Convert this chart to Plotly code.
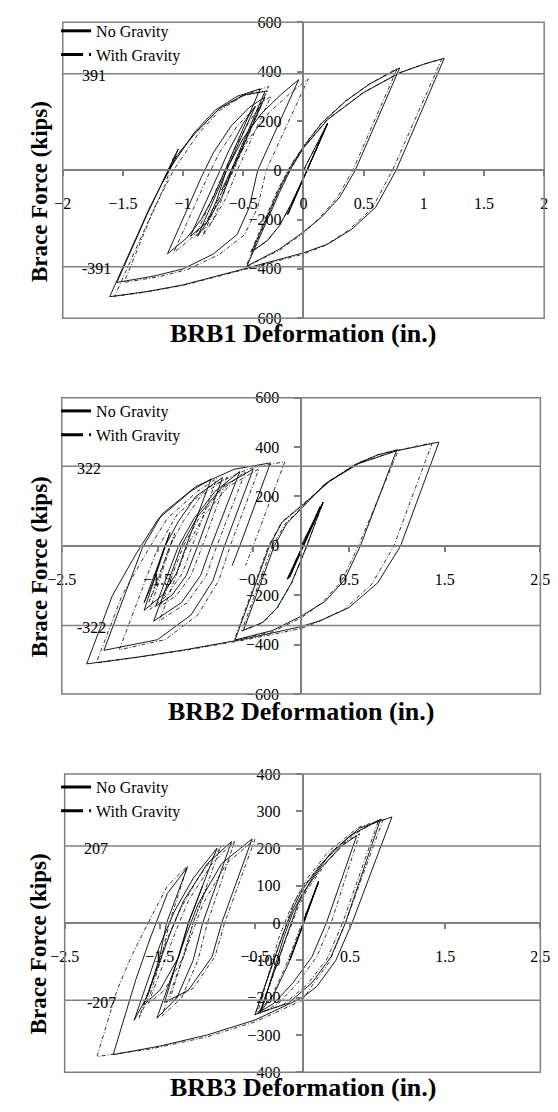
import plotly.graph_objects as go

# ---------------- DATA ----------------
brb1_no_gravity = [
    (0, 0), (0.2, 190), (-0.13, -180), (0.18, 172), (-0.12, -168), (0.2, 190),
    (0.03, 0), (-0.1, -135), (-0.2, -225), (-0.3, -285), (-0.43, -330),
    (-0.2, -75), (-0.1, 20), (0, 95), (0.15, 190), (0.35, 280), (0.55, 350), (0.8, 415),
    (0.43, 0), (0.3, -110), (0.15, -190), (0, -250), (-0.2, -320), (-0.47, -389),
    (-0.2, -90), (-0.1, 10), (0, 90), (0.2, 205), (0.5, 315), (0.8, 395), (1.0, 430), (1.17, 454),
    (0.77, 0), (0.6, -150), (0.4, -240), (0.2, -300), (0, -335), (-0.47, -397), (-1.0, -465),
    (-1.3, -492), (-1.61, -513),
    (-1.28, -154), (-1.12, 0), (-0.91, 151), (-0.73, 245), (-0.55, 300), (-0.36, 330),
    (-0.65, 0), (-0.75, -110), (-0.85, -200), (-0.97, -275), (-1.13, -339),
    (-0.85, -30), (-0.75, 70), (-0.6, 180), (-0.45, 255), (-0.32, 297),
    (-0.59, 0), (-0.68, -110), (-0.8, -210), (-0.94, -268),
    (-0.72, -30), (-0.62, 80), (-0.5, 190), (-0.4, 260),
    (-0.64, 0), (-0.72, -120), (-0.8, -210), (-0.88, -268),
    (-0.62, 20), (-0.5, 130), (-0.35, 230), (-0.18, 310), (-0.04, 367),
    (-0.38, 0), (-0.45, -150), (-0.55, -260), (-0.75, -340), (-1.0, -400), (-1.25, -430), (-1.55, -455),
    (-1.3, -180), (-1.15, -30), (-1.04, 86), (-1.1, 20), (-1.16, -40),
    (-1.05, 60), (-0.9, 150), (-0.7, 250), (-0.5, 305), (-0.32, 320), (-0.6, 0), (-0.68, -80),
]
brb1_with_gravity = [
    (0, 0), (0.2, 188), (-0.14, -182), (0.18, 170), (-0.13, -170), (0.2, 188),
    (0.03, 0), (-0.1, -135), (-0.2, -226), (-0.3, -286), (-0.44, -333),
    (-0.21, -75), (-0.1, 25), (0, 98), (0.15, 192), (0.35, 282), (0.55, 350), (0.78, 413),
    (0.41, 0), (0.28, -112), (0.13, -195), (0, -255), (-0.2, -325), (-0.48, -392),
    (-0.21, -90), (-0.1, 12), (0, 92), (0.2, 207), (0.5, 316), (0.8, 396), (1.0, 430), (1.15, 452),
    (0.74, 0), (0.57, -155), (0.37, -245), (0.18, -305), (0, -340), (-0.47, -400), (-1.0, -467),
    (-1.3, -493), (-1.57, -512),
    (-1.24, -154), (-1.08, 0), (-0.87, 151), (-0.69, 245), (-0.5, 302), (-0.29, 340),
    (-0.59, 0), (-0.7, -110), (-0.8, -200), (-0.93, -275), (-1.08, -335),
    (-0.8, -30), (-0.7, 70), (-0.55, 180), (-0.4, 255), (-0.27, 300),
    (-0.55, 0), (-0.64, -110), (-0.76, -210), (-0.9, -268),
    (-0.68, -30), (-0.58, 80), (-0.46, 190), (-0.36, 262),
    (-0.6, 0), (-0.68, -120), (-0.76, -210), (-0.84, -268),
    (-0.58, 20), (-0.45, 130), (-0.29, 232), (-0.11, 312), (0.04, 371),
    (-0.31, 0), (-0.38, -150), (-0.49, -262), (-0.7, -342), (-0.96, -402), (-1.2, -432), (-1.49, -455),
    (-1.27, -190), (-1.15, -60), (-1.07, 60), (-1.12, 5), (-1.17, -50),
    (-1.06, 55), (-0.9, 150), (-0.7, 248), (-0.5, 303), (-0.3, 322), (-0.58, 0), (-0.66, -80),
]

brb2_no_gravity = [
    (0, 0), (0.23, 177), (-0.14, -135), (0.2, 160), (-0.12, -128), (0.23, 177),
    (0.06, 0), (-0.1, -150), (-0.25, -250), (-0.4, -310), (-0.6, -341),
    (-0.28, 0), (-0.15, 90), (0, 150), (0.25, 250), (0.57, 330), (0.8, 368), (1.0, 388),
    (0.62, 0), (0.45, -140), (0.25, -225), (0, -285), (-0.3, -343), (-0.69, -381),
    (-0.33, 0), (-0.2, 95), (0, 160), (0.3, 262), (0.6, 333), (1.0, 385), (1.44, 420),
    (1.04, 0), (0.8, -150), (0.5, -250), (0.2, -303), (0, -327), (-0.6, -378), (-1.2, -420),
    (-1.7, -450), (-2.24, -478),
    (-1.97, -200), (-1.72, -30), (-1.49, 110), (-1.15, 222), (-0.94, 271),
    (-1.2, 0), (-1.3, -110), (-1.45, -200), (-1.64, -261),
    (-1.37, 54), (-1.45, -30), (-1.55, -150), (-1.64, -230),
    (-1.42, 0), (-1.28, 100), (-1.1, 200), (-0.82, 277),
    (-1.08, 0), (-1.2, -120), (-1.35, -200), (-1.52, -245),
    (-1.28, 0), (-1.12, 110), (-0.9, 220), (-0.64, 301),
    (-0.94, 0), (-1.05, -120), (-1.25, -230), (-1.54, -305),
    (-1.25, 0), (-1.08, 120), (-0.82, 240), (-0.5, 311),
    (-0.8, 0), (-0.92, -140), (-1.15, -280), (-1.5, -380), (-2.06, -423),
    (-1.66, -10), (-1.45, 130), (-1.1, 240), (-0.7, 310), (-0.32, 336),
    (-0.64, 0), (-0.72, -80),
]
brb2_with_gravity = [
    (0, 0), (0.23, 175), (-0.15, -138), (0.2, 158), (-0.13, -130), (0.23, 175),
    (0.06, 0), (-0.1, -152), (-0.25, -252), (-0.4, -312), (-0.62, -345),
    (-0.3, 0), (-0.16, 92), (0, 152), (0.25, 252), (0.57, 331), (0.8, 369), (1.02, 390),
    (0.6, 0), (0.42, -145), (0.22, -230), (0, -292), (-0.3, -348), (-0.7, -383),
    (-0.34, 0), (-0.2, 97), (0, 162), (0.3, 263), (0.6, 334), (1.0, 386), (1.37, 417),
    (0.97, 0), (0.74, -155), (0.45, -258), (0.15, -312), (0, -335), (-0.6, -382), (-1.2, -422),
    (-1.7, -451), (-2.14, -474),
    (-1.87, -200), (-1.62, -30), (-1.4, 110), (-1.08, 222), (-0.88, 273),
    (-1.14, 0), (-1.24, -110), (-1.4, -200), (-1.58, -258),
    (-1.32, 50), (-1.4, -30), (-1.5, -150), (-1.59, -228),
    (-1.37, 0), (-1.23, 100), (-1.05, 200), (-0.77, 278),
    (-1.03, 0), (-1.15, -120), (-1.3, -200), (-1.47, -245),
    (-1.23, 0), (-1.07, 110), (-0.85, 220), (-0.58, 302),
    (-0.88, 0), (-0.99, -120), (-1.19, -230), (-1.48, -303),
    (-1.19, 0), (-1.02, 120), (-0.76, 240), (-0.44, 312),
    (-0.74, 0), (-0.86, -140), (-1.08, -280), (-1.42, -380), (-1.9, -421),
    (-1.5, -10), (-1.29, 130), (-0.95, 240), (-0.55, 312), (-0.17, 341),
    (-0.5, 0), (-0.58, -80),
]

brb3_no_gravity = [
    (0, 0), (0.17, 113), (-0.13, -98), (0.15, 100), (-0.12, -90), (0.17, 113),
    (0.0, -10), (-0.15, -110), (-0.3, -190), (-0.43, -234),
    (-0.2, -40), (-0.1, 30), (0, 80), (0.2, 150), (0.4, 205), (0.57, 235),
    (0.25, 0), (0.1, -90), (-0.1, -160), (-0.3, -215), (-0.5, -246),
    (-0.22, -40), (-0.1, 40), (0, 90), (0.2, 160), (0.5, 235), (0.82, 279),
    (0.45, 0), (0.3, -90), (0.1, -160), (-0.15, -215), (-0.45, -240),
    (-0.17, -40), (-0.05, 50), (0.1, 120), (0.3, 190), (0.6, 255), (0.94, 285),
    (0.52, 0), (0.35, -100), (0.15, -170), (0, -200), (-0.5, -260), (-1.0, -300),
    (-1.5, -330), (-1.99, -353),
    (-1.75, -150), (-1.6, -40), (-1.42, 80), (-1.21, 150),
    (-1.43, 0), (-1.5, -90), (-1.62, -190), (-1.77, -261),
    (-1.5, -60), (-1.35, 30), (-1.15, 120), (-0.9, 201),
    (-1.2, 0), (-1.3, -90), (-1.5, -180), (-1.67, -220),
    (-1.38, -20), (-1.25, 60), (-1.0, 160), (-0.746, 219),
    (-1.05, 0), (-1.15, -100), (-1.32, -200), (-1.53, -255),
    (-1.22, -30), (-1.1, 50), (-0.85, 160), (-0.53, 226),
    (-0.85, 0), (-0.95, -90), (-1.2, -180), (-1.45, -213),
    (-1.2, 0), (-1.05, 100),
]
brb3_with_gravity = [
    (0, 0), (0.17, 110), (-0.14, -100), (0.15, 98), (-0.13, -92), (0.17, 110),
    (-0.02, -10), (-0.17, -112), (-0.32, -195), (-0.47, -240),
    (-0.25, -40), (-0.14, 30), (-0.04, 80), (0.17, 152), (0.38, 208), (0.6, 240),
    (0.3, 0), (0.15, -90), (-0.05, -160), (-0.25, -215), (-0.45, -243),
    (-0.17, -40), (-0.05, 40), (0.05, 90), (0.25, 162), (0.52, 235), (0.8, 276),
    (0.42, 0), (0.26, -95), (0.05, -165), (-0.2, -218), (-0.5, -246),
    (-0.22, -40), (-0.1, 50), (0.05, 120), (0.27, 192), (0.58, 256), (0.85, 280),
    (0.45, 0), (0.28, -105), (0.08, -175), (0, -207), (-0.5, -265), (-1.0, -305),
    (-1.6, -338), (-2.16, -358),
    (-1.95, -180), (-1.8, -90), (-1.68, -28), (-1.42, 100), (-1.21, 153),
    (-1.4, 0), (-1.48, -90), (-1.6, -190), (-1.72, -255),
    (-1.45, -60), (-1.3, 30), (-1.1, 120), (-0.86, 205),
    (-1.15, 0), (-1.25, -90), (-1.45, -180), (-1.62, -215),
    (-1.33, -20), (-1.2, 60), (-0.95, 160), (-0.71, 222),
    (-1.0, 0), (-1.1, -100), (-1.27, -200), (-1.48, -250),
    (-1.17, -30), (-1.05, 50), (-0.8, 160), (-0.5, 225),
    (-0.82, 0), (-0.92, -90), (-1.15, -175), (-1.4, -210),
    (-1.15, 0), (-1.0, 100),
]

brb1_xticks = [-2, -1.5, -1, -0.5, 0, 0.5, 1, 1.5, 2]
brb1_yticks = [-600, -400, -200, 0, 200, 400, 600]
brb2_xticks = [-2.5, -1.5, -0.5, 0.5, 1.5, 2.5]
brb2_yticks = [-600, -400, -200, 0, 200, 400, 600]
brb3_xticks = [-2.5, -1.5, -0.5, 0.5, 1.5, 2.5]
brb3_yticks = [-400, -300, -200, -100, 0, 100, 200, 300, 400]
capacity_limits = [391, 322, 207]
x_titles = ["BRB1 Deformation (in.)", "BRB2 Deformation (in.)", "BRB3 Deformation (in.)"]
y_title = "Brace Force (kips)"
series_names = ["No Gravity", "With Gravity"]

# ---------------- LAYOUT ----------------
W, H = 558, 1112
FONT = "Liberation Serif"
GRAY = "#808080"

panels = [
    dict(ng=brb1_no_gravity, wg=brb1_with_gravity, xr=[-2, 2], yr=[-600, 600],
         xt=brb1_xticks, yt=brb1_yticks, px=(50, 554), py=(14.5, 315),
         lim_x=(68, 68), title_y=331, ytitle_y=186, leg_y=6),
    dict(ng=brb2_no_gravity, wg=brb2_with_gravity, xr=[-2.5, 2.5], yr=[-600, 600],
         xt=brb2_xticks, yt=brb2_yticks, px=(49, 550), py=(395.7, 696.7),
         lim_x=(63, 63), title_y=714, ytitle_y=567, leg_y=392),
    dict(ng=brb3_no_gravity, wg=brb3_with_gravity, xr=[-2.5, 2.5], yr=[-400, 400],
         xt=brb3_xticks, yt=brb3_yticks, px=(52, 550), py=(778, 1080.7),
         lim_x=(70, 73), title_y=1096, ytitle_y=950, leg_y=774),
]

fig = go.Figure()
shapes, annotations = [], []
layout = {}

for i, p in enumerate(panels):
    n = i + 1
    sfx = "" if n == 1 else str(n)
    xa, ya = "x" + sfx, "y" + sfx
    leg = "legend" + sfx
    xdom = [p["px"][0] / W, p["px"][1] / W]
    ydom = [1 - p["py"][1] / H, 1 - p["py"][0] / H]
    xmid = sum(xdom) / 2
    ymid = sum(ydom) / 2

    for name, data, dash, lw in [(series_names[0], p["ng"], "solid", 0.9),
                                 (series_names[1], p["wg"], "4px,2px,1px,2px", 0.8)]:
        fig.add_trace(go.Scatter(
            x=[d[0] for d in data], y=[d[1] for d in data], mode="lines",
            line=dict(color="black", width=lw, dash=dash),
            xaxis=xa, yaxis=ya, showlegend=False, hoverinfo="skip"))
    # legend samples
    fig.add_trace(go.Scatter(x=[None], y=[None], mode="lines", name=series_names[0],
                             line=dict(color="black", width=3), xaxis=xa, yaxis=ya,
                             legend=leg))
    fig.add_trace(go.Scatter(x=[None], y=[None], mode="lines", name=series_names[1],
                             line=dict(color="black", width=3, dash="22px,6px,3px,6px"),
                             xaxis=xa, yaxis=ya, legend=leg))

    tickfont = dict(family=FONT, size=16, color="black")
    layout["xaxis" + sfx] = dict(
        domain=xdom, range=p["xr"], anchor="free", position=ymid,
        showline=True, linecolor=GRAY, linewidth=1.5, mirror=False,
        ticks="outside", ticklen=5, tickwidth=1.5, tickcolor=GRAY,
        tickvals=p["xt"], tickfont=tickfont, ticklabelstandoff=14,
        showgrid=False, zeroline=False, fixedrange=True)
    layout["yaxis" + sfx] = dict(
        domain=ydom, range=p["yr"], anchor="free", position=xmid,
        showline=True, linecolor=GRAY, linewidth=1.5,
        ticks="outside", ticklen=6, tickwidth=1.5, tickcolor=GRAY,
        tickvals=p["yt"], tickfont=tickfont, ticklabelstandoff=12,
        showgrid=False, zeroline=False, fixedrange=True)
    layout[leg] = dict(x=43 / W, y=1 - p["leg_y"] / H, xanchor="left", yanchor="top",
                       bgcolor="rgba(0,0,0,0)", font=dict(family=FONT, size=16, color="black"),
                       tracegroupgap=0, itemwidth=30)

    # frame
    shapes.append(dict(type="rect", xref=xa + " domain", yref=ya + " domain",
                       x0=0, x1=1, y0=0, y1=1, line=dict(color=GRAY, width=1.5)))
    lim = capacity_limits[i]
    for k, v in enumerate([lim, -lim]):
        shapes.append(dict(type="line", xref=xa + " domain", yref=ya, x0=0, x1=1,
                           y0=v, y1=v, line=dict(color=GRAY, width=1.5)))
        annotations.append(dict(text=str(v), xref="paper", yref=ya, x=p["lim_x"][k] / W, y=v,
                                xanchor="left", yanchor="middle", yshift=-2, showarrow=False,
                                font=dict(family=FONT, size=16, color="black")))
    # titles
    annotations.append(dict(text="<b>" + x_titles[i] + "</b>", xref="paper", yref="paper",
                            x=xmid, y=1 - p["title_y"] / H, xanchor="center", yanchor="middle",
                            showarrow=False, font=dict(family=FONT, size=26, color="black")))
    annotations.append(dict(text="<b>" + y_title + "</b>", xref="paper", yref="paper",
                            x=25 / W, y=1 - p["ytitle_y"] / H, xanchor="center", yanchor="middle",
                            textangle=-90, showarrow=False,
                            font=dict(family=FONT, size=23, color="black")))

fig.update_layout(width=W, height=H, margin=dict(l=0, r=0, t=0, b=0),
                  paper_bgcolor="white", plot_bgcolor="white",
                  shapes=shapes, annotations=annotations, **layout)
fig.write_html("out.html")
